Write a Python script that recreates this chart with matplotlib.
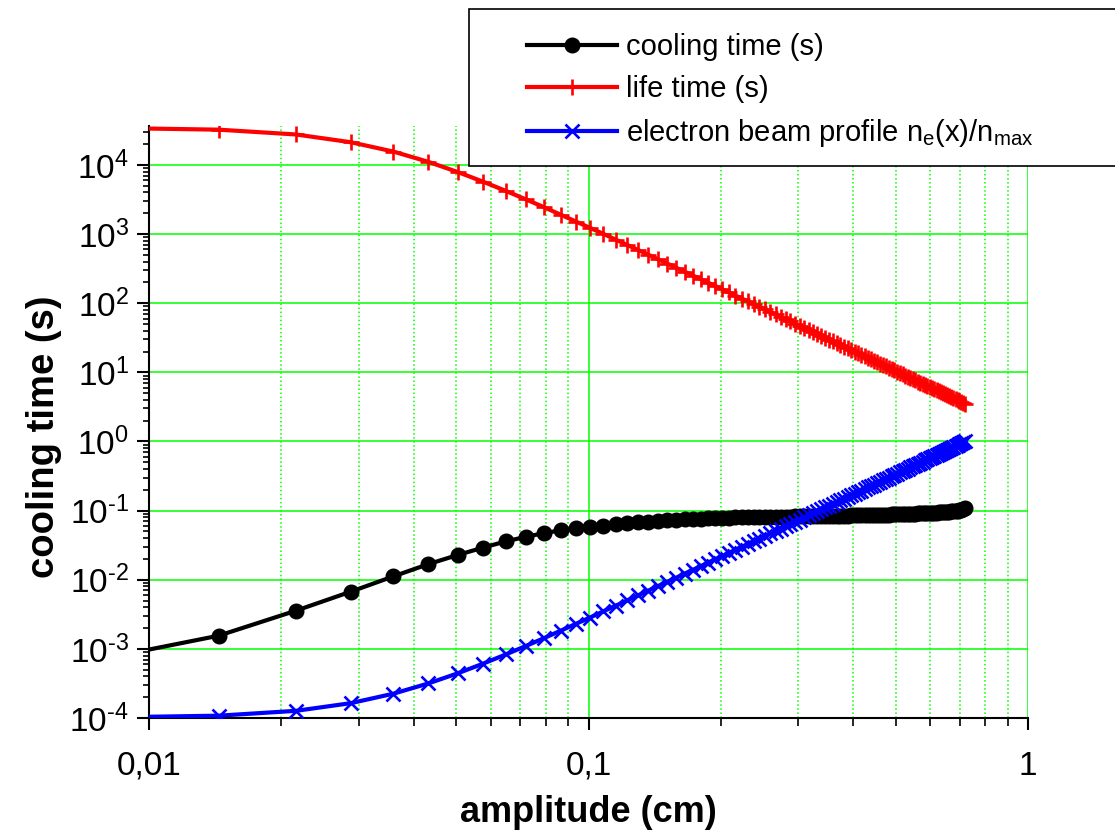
import numpy as np
import matplotlib
matplotlib.use('Agg')
import matplotlib.pyplot as plt
from matplotlib.patches import Rectangle
from matplotlib.ticker import FixedLocator, FixedFormatter, NullFormatter

plt.rcParams['font.family'] = ['Liberation Sans', 'DejaVu Sans']
plt.rcParams['mathtext.fontset'] = 'custom'
plt.rcParams['mathtext.rm'] = 'Liberation Sans'
plt.rcParams['mathtext.it'] = 'Liberation Sans:italic'
plt.rcParams['mathtext.bf'] = 'Liberation Sans:bold'
plt.rcParams['mathtext.default'] = 'regular'

#-----data----------------------------#
amplitude = [0.0072, 0.0144, 0.0216, 0.0288, 0.036, 0.0432, 0.0504, 0.0576, 0.0648, 0.072,
             0.0792, 0.0864, 0.0936, 0.1008, 0.108, 0.1152, 0.1224, 0.1296, 0.1368, 0.144,
             0.1512, 0.1584, 0.1656, 0.1728, 0.18, 0.1872, 0.1944, 0.2016, 0.2088, 0.216,
             0.2232, 0.2304, 0.2376, 0.2448, 0.252, 0.2592, 0.2664, 0.2736, 0.2808, 0.288,
             0.2952, 0.3024, 0.3096, 0.3168, 0.324, 0.3312, 0.3384, 0.3456, 0.3528, 0.36,
             0.3672, 0.3744, 0.3816, 0.3888, 0.396, 0.4032, 0.4104, 0.4176, 0.4248, 0.432,
             0.4392, 0.4464, 0.4536, 0.4608, 0.468, 0.4752, 0.4824, 0.4896, 0.4968, 0.504,
             0.5112, 0.5184, 0.5256, 0.5328, 0.54, 0.5472, 0.5544, 0.5616, 0.5688, 0.576,
             0.5832, 0.5904, 0.5976, 0.6048, 0.612, 0.6192, 0.6264, 0.6336, 0.6408, 0.648,
             0.6552, 0.6624, 0.6696, 0.6768, 0.684, 0.6912, 0.6984, 0.7056, 0.7128, 0.72]

cooling_time = [6.45e-4, 1.55e-3, 3.57e-3, 6.73e-3, 1.12e-2, 1.68e-2, 2.28e-2, 2.92e-2, 3.58e-2, 4.18e-2,
                4.72e-2, 5.18e-2, 5.54e-2, 5.83e-2, 6.08e-2, 6.32e-2, 6.54e-2, 6.74e-2, 6.92e-2, 7.08e-2,
                7.23e-2, 7.36e-2, 7.48e-2, 7.58e-2, 7.67e-2, 7.75e-2, 7.82e-2, 7.88e-2, 7.93e-2, 7.97e-2,
                8.01e-2, 8.04e-2, 8.07e-2, 8.09e-2, 8.11e-2, 8.13e-2, 8.15e-2, 8.17e-2, 8.19e-2, 8.21e-2,
                8.23e-2, 8.25e-2, 8.27e-2, 8.29e-2, 8.31e-2, 8.33e-2, 8.35e-2, 8.37e-2, 8.39e-2, 8.41e-2,
                8.43e-2, 8.45e-2, 8.47e-2, 8.49e-2, 8.51e-2, 8.53e-2, 8.55e-2, 8.57e-2, 8.60e-2, 8.62e-2,
                8.64e-2, 8.66e-2, 8.69e-2, 8.71e-2, 8.73e-2, 8.76e-2, 8.78e-2, 8.81e-2, 8.83e-2, 8.86e-2,
                8.89e-2, 8.91e-2, 8.94e-2, 8.97e-2, 9.00e-2, 9.03e-2, 9.06e-2, 9.09e-2, 9.12e-2, 9.15e-2,
                9.19e-2, 9.22e-2, 9.26e-2, 9.30e-2, 9.34e-2, 9.38e-2, 9.42e-2, 9.47e-2, 9.52e-2, 9.57e-2,
                9.63e-2, 9.69e-2, 9.76e-2, 9.84e-2, 9.93e-2, 0.1003, 0.1015, 0.103, 0.105, 0.108]

life_time = [3.47e4, 3.24e4, 2.76e4, 2.13e4, 1.56e4, 1.11e4, 7.90e3, 5.72e3, 4.22e3, 3.18e3,
             2.45e3, 1.91e3, 1.52e3, 1.23e3, 1.01e3, 834, 698, 590, 503, 432,
             374, 326, 285, 251, 223, 198, 177, 159, 143, 129,
             117, 106, 97.1, 88.8, 81.4, 74.9, 69.0, 63.7, 58.9, 54.6,
             50.7, 47.2, 44.0, 41.0, 38.4, 35.9, 33.7, 31.6, 29.7, 28.0,
             26.4, 24.9, 23.5, 22.2, 21.0, 19.9, 18.9, 17.9, 17.0, 16.2,
             15.4, 14.7, 14.0, 13.3, 12.7, 12.2, 11.6, 11.1, 10.7, 10.2,
             9.78, 9.37, 8.99, 8.64, 8.29, 7.97, 7.66, 7.37, 7.10, 6.83,
             6.58, 6.35, 6.12, 5.90, 5.70, 5.50, 5.31, 5.14, 4.96, 4.80,
             4.64, 4.49, 4.35, 4.21, 4.08, 3.96, 3.83, 3.72, 3.61, 3.50]

beam_profile = [1.01e-4, 1.08e-4, 1.27e-4, 1.64e-4, 2.25e-4, 3.16e-4, 4.43e-4, 6.12e-4, 8.29e-4, 1.10e-3,
                1.43e-3, 1.83e-3, 2.30e-3, 2.84e-3, 3.48e-3, 4.20e-3, 5.01e-3, 5.93e-3, 6.96e-3, 8.10e-3,
                9.36e-3, 0.0107, 0.0123, 0.0139, 0.0157, 0.0177, 0.0198, 0.0220, 0.0245, 0.0271,
                0.0299, 0.0329, 0.0360, 0.0394, 0.0430, 0.0468, 0.0508, 0.0550, 0.0594, 0.0641,
                0.0690, 0.0742, 0.0796, 0.0853, 0.0912, 0.0974, 0.104, 0.111, 0.118, 0.125,
                0.133, 0.141, 0.149, 0.158, 0.166, 0.176, 0.185, 0.195, 0.205, 0.216,
                0.227, 0.238, 0.250, 0.262, 0.275, 0.288, 0.301, 0.315, 0.329, 0.343,
                0.358, 0.373, 0.389, 0.405, 0.422, 0.439, 0.457, 0.475, 0.493, 0.512,
                0.531, 0.551, 0.572, 0.593, 0.614, 0.636, 0.659, 0.682, 0.705, 0.729,
                0.754, 0.779, 0.805, 0.831, 0.857, 0.885, 0.913, 0.941, 0.970, 1.00]

xticks = [0.01, 0.1, 1]
xtick_labels = ['0,01', '0,1', '1']
yticks = [1e-4, 1e-3, 1e-2, 1e-1, 1e0, 1e1, 1e2, 1e3, 1e4]
# short hyphen (U+2010) in the exponent, like the original
ytick_labels = ['$10^{\u20104}$', '$10^{\u20103}$', '$10^{\u20102}$', '$10^{\u20101}$', '$10^{0}$',
                '$10^{1}$', '$10^{2}$', '$10^{3}$', '$10^{4}$']

#-----figure-------#
fig = plt.figure(figsize=(11.15, 8.39), dpi=100)
ax = fig.add_axes([149/1115, 1 - 718/839, 879/1115, 592/839])

ax.plot(amplitude, cooling_time, color='black', lw=3, marker='o', ms=10.5,
        label='cooling time (s)', zorder=3)
ax.plot(amplitude, life_time, color='red', lw=3, marker='+', ms=11, mew=1.9,
        label='life time (s)', zorder=4)
ax.plot(amplitude, beam_profile, color='blue', lw=3, marker='x', ms=9.5, mew=1.9,
        label='electron beam profile n$_e$(x)/n$_{max}$', zorder=5)

ax.set_xscale('log')
ax.set_yscale('log')
ax.set_xlim(0.01, 1)
ax.set_ylim(1e-4, 3.66e4)

ax.xaxis.set_major_locator(FixedLocator(xticks))
ax.xaxis.set_major_formatter(FixedFormatter(xtick_labels))
ax.xaxis.set_minor_locator(FixedLocator([m * d for d in [0.01, 0.1] for m in range(2, 10)]))
ax.xaxis.set_minor_formatter(NullFormatter())
ax.yaxis.set_major_locator(FixedLocator(yticks))
ax.yaxis.set_major_formatter(FixedFormatter(ytick_labels))
ax.yaxis.set_minor_locator(FixedLocator([m * 10.0**e for e in range(-4, 5) for m in range(2, 10)]))
ax.yaxis.set_minor_formatter(NullFormatter())

ax.tick_params(which='major', direction='out', length=8.5, width=1.5, labelsize=24)
ax.tick_params(which='minor', direction='out', length=5.5, width=1.2)
ax.tick_params(axis='y', which='minor', length=4.3)
ax.tick_params(axis='x', pad=15)
ax.tick_params(axis='y', pad=6)

ax.spines['top'].set_visible(False)
ax.spines['right'].set_visible(False)
ax.spines['left'].set_linewidth(1.5)
ax.spines['bottom'].set_linewidth(1.5)

ax.set_axisbelow(True)
ax.grid(True, which='major', color='#00ff00', lw=1.1, ls='-')
ax.xaxis.grid(True, which='minor', color='#00ff00', lw=1.1, ls=':')

ax.set_xlabel('amplitude (cm)', fontsize=26, fontweight='bold')
ax.set_ylabel('cooling time (s)', fontsize=27.5, fontweight='bold')
ax.xaxis.set_label_coords(0.5, -0.13)
ax.yaxis.set_label_coords(-0.099, 0.475)

# legend frame sticks out past the right edge of the figure
fig.patches.append(Rectangle((469/1115, 1 - 166/839), 0.7, 157/839, transform=fig.transFigure,
                             facecolor='white', edgecolor='black', lw=1.2, zorder=10))
leg = fig.legend(loc='upper left', bbox_to_anchor=(527/1115, 1 - 33/839), frameon=False,
                 fontsize=21, handlelength=3.1, handletextpad=0.3, labelspacing=0.48,
                 borderpad=0, borderaxespad=0)
leg.set_zorder(11)

fig.savefig('out.png', dpi=100)
